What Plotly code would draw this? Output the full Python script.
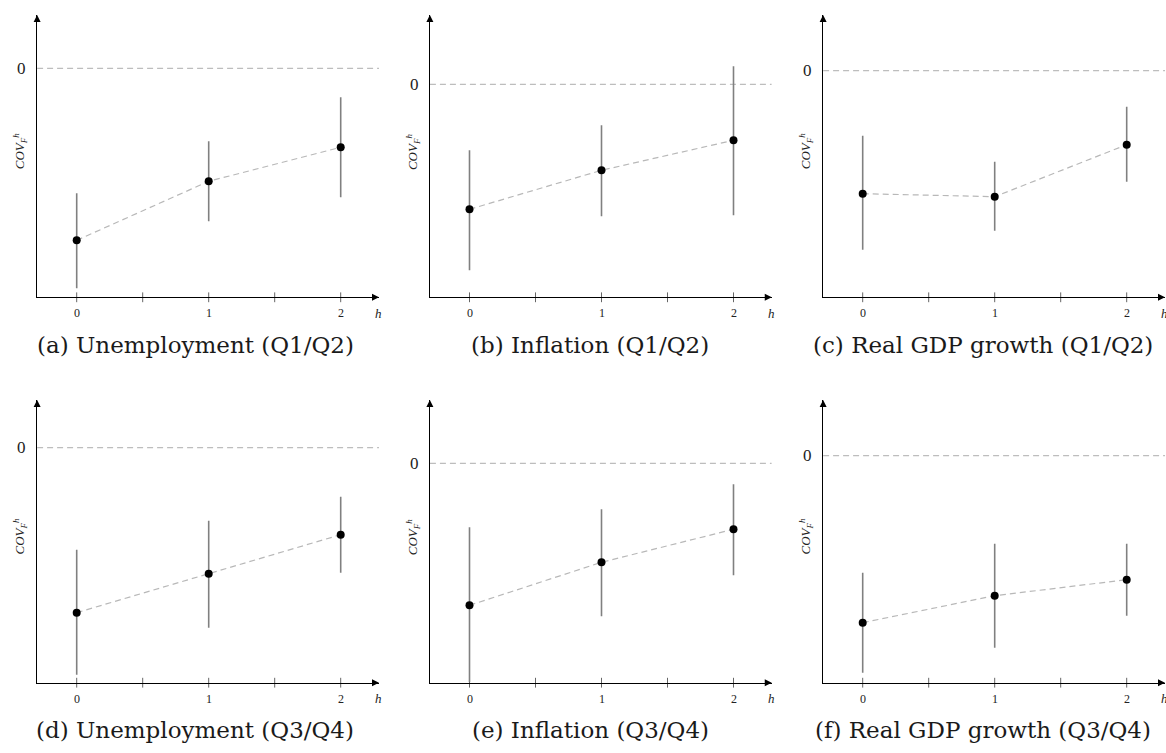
import plotly.graph_objects as go

# ---------------- data ----------------
horizons = [0, 1, 2]
tick_labels = ["0", "1", "2"]
captions = ["(a) Unemployment (Q1/Q2)", "(b) Inflation (Q1/Q2)", "(c) Real GDP growth (Q1/Q2)",
            "(d) Unemployment (Q3/Q4)", "(e) Inflation (Q3/Q4)", "(f) Real GDP growth (Q3/Q4)"]

est_a = [-1.72, -1.13, -0.79]
lo_a = [-2.20, -1.53, -1.29]
hi_a = [-1.25, -0.73, -0.29]

est_b = [-1.25, -0.86, -0.56]
lo_b = [-1.86, -1.32, -1.31]
hi_b = [-0.66, -0.41, 0.18]

est_c = [-1.23, -1.26, -0.74]
lo_c = [-1.79, -1.60, -1.11]
hi_c = [-0.65, -0.91, -0.36]

est_d = [-1.65, -1.26, -0.87]
lo_d = [-2.27, -1.80, -1.25]
hi_d = [-1.02, -0.73, -0.49]

est_e = [-1.42, -0.99, -0.66]
lo_e = [-2.19, -1.53, -1.12]
hi_e = [-0.64, -0.46, -0.21]

est_f = [-1.67, -1.40, -1.24]
lo_f = [-2.17, -1.92, -1.60]
hi_f = [-1.17, -0.88, -0.88]

estimates = [est_a, est_b, est_c, est_d, est_e, est_f]
lows = [lo_a, lo_b, lo_c, lo_d, lo_e, lo_f]
highs = [hi_a, hi_b, hi_c, hi_d, hi_e, hi_f]

# ---------------- layout geometry ----------------
W, H = 1166, 753
unit = 132.0                       # px per horizon step
col_x0 = [76.7, 469.5, 862.7]      # px position of h=0 in each column
row_top = [15.0, 400.0]
row_bot = [297.3, 682.7]
y_lo = [-2.29, -2.13, -2.266, -2.35, -2.194, -2.27]
y_hi = [0.533, 0.693, 0.557, 0.477, 0.633, 0.557]
cap_x = [195, 590, 983]
cap_y = [345, 730]

SERIF = "Liberation Serif"
CAPFONT = "DejaVu Serif"

fig = go.Figure()
layout = dict(width=W, height=H, margin=dict(l=0, r=0, t=0, b=0),
              plot_bgcolor="white", paper_bgcolor="white", showlegend=False)
annotations = []
shapes = []

for i in range(6):
    r, c = divmod(i, 3)
    xa = "x" if i == 0 else f"x{i+1}"
    ya = "y" if i == 0 else f"y{i+1}"
    xkey = "xaxis" if i == 0 else f"xaxis{i+1}"
    ykey = "yaxis" if i == 0 else f"yaxis{i+1}"
    x0 = col_x0[c]
    left_px = x0 - 0.3 * unit
    right_px = min(x0 + 2.29 * unit, W - 1)
    x_end = (right_px - x0) / unit
    layout[xkey] = dict(domain=[left_px / W, right_px / W],
                        range=[-0.3, x_end],
                        anchor=ya, showgrid=False, zeroline=False,
                        showline=True, linecolor="black", linewidth=1.3,
                        showticklabels=False, ticks="", fixedrange=True)
    layout[ykey] = dict(domain=[1 - row_bot[r] / H, 1 - row_top[r] / H],
                        range=[y_lo[i], y_hi[i]],
                        anchor=xa, showgrid=False, zeroline=False,
                        showline=True, linecolor="black", linewidth=1.3,
                        showticklabels=False, ticks="", fixedrange=True)

    est, lo, hi = estimates[i], lows[i], highs[i]
    # zero reference line
    shapes.append(dict(type="line", xref=xa, yref=ya, x0=-0.3, x1=x_end, y0=0, y1=0,
                       line=dict(color="#bdbdbd", width=1.2, dash="6px,4px"), layer="below"))
    # tick marks on the h axis
    fig.add_trace(go.Scatter(x=[0, 0.5, 1, 1.5, 2], y=[y_lo[i]] * 5, xaxis=xa, yaxis=ya,
                             mode="markers", cliponaxis=False, hoverinfo="skip",
                             marker=dict(symbol="line-ns", size=7,
                                         line=dict(color="#666", width=1))))
    # estimates with intervals
    fig.add_trace(go.Scatter(
        x=horizons, y=est, xaxis=xa, yaxis=ya, mode="lines+markers", cliponaxis=False,
        line=dict(color="#b8b8b8", width=1.2, dash="6px,4px"),
        marker=dict(color="black", size=8),
        error_y=dict(type="data", symmetric=False,
                     array=[h - e for h, e in zip(hi, est)],
                     arrayminus=[e - l for e, l in zip(est, lo)],
                     color="#808080", thickness=1.6, width=0)))
    # arrowheads at the axis ends
    fig.add_trace(go.Scatter(x=[x_end, -0.3], y=[y_lo[i], y_hi[i]], xaxis=xa, yaxis=ya,
                             mode="markers", cliponaxis=False, hoverinfo="skip",
                             marker=dict(symbol=["arrow-right", "arrow-up"], size=7,
                                         color="black", line=dict(width=0))))
    # tick labels on the h axis (placed on the axis scale)
    for hv, lab in zip(horizons, tick_labels):
        annotations.append(dict(x=hv, y=y_lo[i], xref=xa, yref=ya, yshift=-16, showarrow=False,
                                text=lab, font=dict(family=SERIF, size=12, color="#222")))
    # zero label on the y axis
    annotations.append(dict(x=-0.3, y=0, xref=xa, yref=ya, xanchor="right", xshift=-9,
                            showarrow=False, text="0",
                            font=dict(family=SERIF, size=17, color="#222")))
    # h label
    annotations.append(dict(x=x_end, y=y_lo[i], xref=xa, yref=ya, yshift=-16, showarrow=False,
                            text="<i>h</i>", font=dict(family=SERIF, size=13, color="#222")))
    # y label
    annotations.append(dict(x=0, y=0.5, xref=f"{xa} domain", yref=f"{ya} domain",
                            xanchor="center", yanchor="middle",
                            xshift=-17, yshift=5, showarrow=False, textangle=-90,
                            text="<i>COV</i><sub><i>F</i></sub><sup><i>h</i></sup>",
                            font=dict(family=SERIF, size=13, color="#222")))
    # caption
    annotations.append(dict(x=cap_x[c] / W, y=1 - cap_y[r] / H, xref="paper", yref="paper",
                            showarrow=False, text=captions[i], xanchor="center", yanchor="middle",
                            font=dict(family=CAPFONT, size=23, color="#1a1a1a")))

layout["annotations"] = annotations
layout["shapes"] = shapes
fig.update_layout(**layout)
fig.write_html("out.html")
